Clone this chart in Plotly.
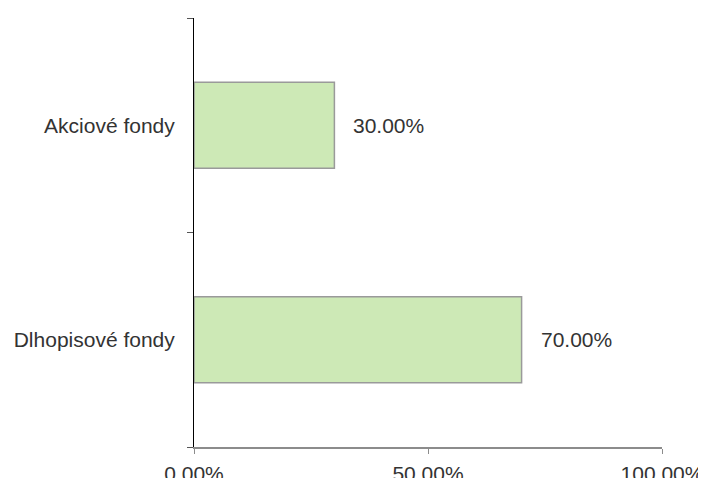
import plotly.graph_objects as go

categories = ["Akciové fondy", "Dlhopisové fondy"]
shares = [0.30, 0.70]
x_ticks = [0, 0.5, 1.0]

FONT = "Liberation Sans, Arial, Helvetica, sans-serif"
TEXT = "#333333"

fig = go.Figure()

fig.add_trace(
    go.Bar(
        x=shares,
        y=categories,
        orientation="h",
        marker=dict(color="#cde9b6", line=dict(color="#9a9a9a", width=1.5)),
        hoverinfo="skip",
    )
)

# value labels to the right of each bar
for cat, val in zip(categories, shares):
    fig.add_annotation(
        x=val,
        y=cat,
        text=f"{val * 100:.2f}%",
        showarrow=False,
        xanchor="left",
        xshift=17,
        font=dict(family=FONT, size=21, color=TEXT),
    )

# page body has an 8px margin, so the figure is sized/offset to compensate
fig.update_layout(
    width=698,
    height=470,
    margin=dict(l=186, r=44, t=10, b=31),
    paper_bgcolor="white",
    plot_bgcolor="white",
    bargap=0.6,
    showlegend=False,
    font=dict(family=FONT, size=21, color=TEXT),
)

fig.update_xaxes(
    range=[0, 1],
    tickvals=x_ticks,
    tickformat=".2%",
    showgrid=False,
    zeroline=False,
    showline=True,
    linecolor="#8c8c8c",
    linewidth=1.5,
    ticks="outside",
    ticklen=5,
    tickcolor="#8c8c8c",
    ticklabelstandoff=2,
    automargin=False,
)

fig.update_yaxes(
    categoryorder="array",
    categoryarray=categories[::-1],
    showgrid=False,
    zeroline=False,
    showline=True,
    linecolor="#000000",
    linewidth=1,
    ticks="outside",
    tickson="boundaries",
    ticklen=6,
    tickcolor="#555555",
    ticklabelstandoff=14,
    automargin=False,
)

fig.write_html("out.html")
